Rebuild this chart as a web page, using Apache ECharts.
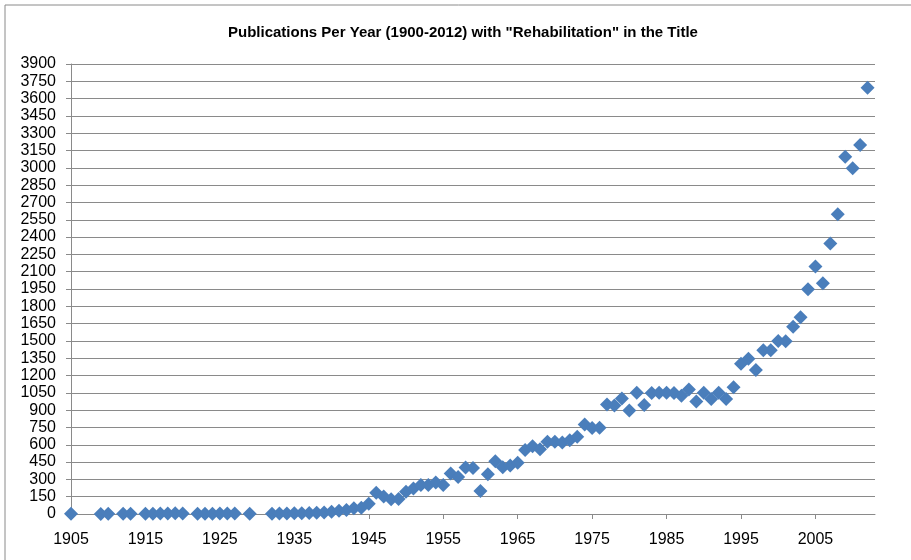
<!DOCTYPE html>
<html>
<head>
<meta charset="utf-8">
<script src="https://cdn.jsdelivr.net/npm/echarts@6/dist/echarts.min.js"></script>
<style>
  html, body { margin: 0; padding: 0; background: #fff; }
  #chart { width: 911px; height: 560px; }
</style>
</head>
<body>
<div id="chart"></div>
<script>
// years that have a value, and the publication count for each
const years = [
  1905, 1909, 1910, 1912, 1913, 1915, 1916, 1917, 1918, 1919, 1920,
  1922, 1923, 1924, 1925, 1926, 1927, 1929,
  1932, 1933, 1934, 1935, 1936, 1937, 1938, 1939,
  1940, 1941, 1942, 1943, 1944, 1945, 1946, 1947, 1948, 1949,
  1950, 1951, 1952, 1953, 1954, 1955, 1956, 1957, 1958, 1959,
  1960, 1961, 1962, 1963, 1964, 1965, 1966, 1967, 1968, 1969,
  1970, 1971, 1972, 1973, 1974, 1975, 1976, 1977, 1978, 1979,
  1980, 1981, 1982, 1983, 1984, 1985, 1986, 1987, 1988, 1989,
  1990, 1991, 1992, 1993, 1994, 1995, 1996, 1997, 1998, 1999,
  2000, 2001, 2002, 2003, 2004, 2005, 2006, 2007, 2008, 2009,
  2010, 2011, 2012
];
const counts = [
  2, 1, 2, 3, 2, 3, 2, 4, 5, 6, 4,
  3, 2, 3, 4, 5, 4, 3,
  3, 4, 5, 6, 7, 8, 10, 12,
  20, 29, 35, 49, 55, 88, 185, 152, 127, 130,
  193, 222, 251, 251, 272, 251, 352, 320, 404, 398,
  200, 345, 458, 406, 420, 444, 554, 588, 562, 626,
  626, 620, 640, 670, 776, 745, 747, 948, 940, 1000,
  898, 1050, 945, 1048, 1051, 1051, 1048, 1025, 1080, 975,
  1051, 996, 1051, 996, 1098, 1302, 1345, 1248, 1420, 1420,
  1500, 1497, 1623, 1705, 1948, 2145, 2000, 2345, 2597, 3096,
  2997, 3198, 3695
];
const xTicks = [1905, 1915, 1925, 1935, 1945, 1955, 1965, 1975, 1985, 1995, 2005];

const chart = echarts.init(document.getElementById("chart"));
const font = "Liberation Sans";

chart.setOption({
  animation: false,
  backgroundColor: "#fff",
  title: {
    text: 'Publications Per Year (1900-2012) with "Rehabilitation" in the Title',
    left: 223,
    top: 20,
    textStyle: {
      fontFamily: font,
      fontWeight: "bold",
      fontSize: 15,
      color: "#000"
    }
  },
  graphic: [
    {
      type: "rect",
      shape: { x: 5, y: 5, width: 1000, height: 700 },
      style: { fill: "none", stroke: "#8a8a8a", lineWidth: 1 },
      silent: true
    }
  ],
  grid: {
    left: 71,
    right: 36,
    top: 64,
    bottom: 46
  },
  xAxis: {
    type: "value",
    min: 1905,
    max: 2013,
    interval: 10,
    splitLine: { show: false },
    axisLine: { lineStyle: { color: "#8a8a8a" } },
    axisTick: {
      length: 5,
      customValues: xTicks,
      lineStyle: { color: "#8a8a8a" }
    },
    axisLabel: {
      customValues: xTicks,
      margin: 18,
      fontFamily: font,
      fontSize: 16,
      color: "#000",
      formatter: (v) => String(v)
    }
  },
  yAxis: {
    type: "value",
    min: 0,
    max: 3900,
    interval: 150,
    axisLine: { show: true, lineStyle: { color: "#8a8a8a" } },
    axisTick: { show: true, length: 5, lineStyle: { color: "#8a8a8a" } },
    splitLine: { lineStyle: { color: "#8a8a8a", width: 1 } },
    axisLabel: {
      margin: 15,
      fontFamily: font,
      fontSize: 16,
      color: "#000",
      formatter: (v) => String(v)
    }
  },
  series: [
    {
      name: "Publications",
      type: "scatter",
      symbol: "diamond",
      symbolSize: 14,
      itemStyle: { color: "#4A7EBB", opacity: 1 },
      data: years.map((y, i) => [y, counts[i]])
    }
  ]
});
</script>
</body>
</html>
